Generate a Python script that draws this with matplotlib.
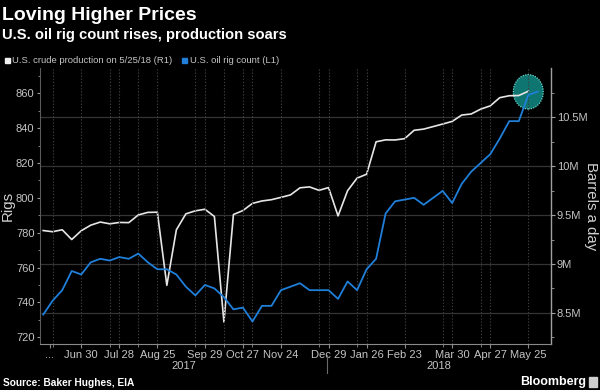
import matplotlib
matplotlib.use("Agg")
import matplotlib.pyplot as plt
import matplotlib.dates as mdates
from matplotlib.patches import Ellipse, Rectangle
import pandas as pd
import numpy as np

# ---------------- data ----------------
rig_start = "2017-06-02"
rig_counts = [733, 741, 747, 758, 756,
              763, 765, 764, 766,
              765, 768, 763, 759,
              759, 756, 749, 744, 750,
              748, 743, 736, 737,
              729, 738, 738, 747,
              749, 751, 747, 747, 747,
              742, 752, 747, 759,
              765, 791, 798, 799,
              800, 796, 800, 804, 797,
              808, 815, 820, 825,
              834, 844, 844, 859,
              861]
production_m = [9.342, 9.330, 9.350, 9.250, 9.340,
                9.397, 9.429, 9.411, 9.425,
                9.423, 9.502, 9.528, 9.530,
                8.781, 9.349, 9.513, 9.544, 9.560,
                9.486, 8.405, 9.506, 9.547,
                9.620, 9.645, 9.658, 9.682,
                9.707, 9.780, 9.789, 9.754, 9.782,
                9.492, 9.750, 9.879, 9.919,
                10.251, 10.271, 10.270, 10.283,
                10.369, 10.381, 10.407, 10.433, 10.460,
                10.525, 10.536, 10.586, 10.619,
                10.703, 10.723, 10.725, 10.769]
tick_dates = ["2017-06-07", "2017-06-30", "2017-07-28", "2017-08-25", "2017-09-29",
              "2017-10-27", "2017-11-24", "2017-12-29", "2018-01-26", "2018-02-23",
              "2018-03-30", "2018-04-27", "2018-05-25"]
tick_labels = ["...", "Jun 30", "Jul 28", "Aug 25", "Sep 29", "Oct 27", "Nov 24",
               "Dec 29", "Jan 26", "Feb 23", "Mar 30", "Apr 27", "May 25"]
extra_grid_dates = ["2017-06-09", "2017-07-21", "2017-08-11", "2017-09-22", "2017-10-13",
                    "2017-11-03", "2017-12-22", "2018-01-19", "2018-03-23", "2018-04-20"]
rig_ticks = [720, 740, 760, 780, 800, 820, 840, 860]
prod_ticks = [8.5, 9.0, 9.5, 10.0, 10.5]
prod_tick_labels = ["8.5M", "9M", "9.5M", "10M", "10.5M"]
years = ["2017", "2018"]

rig_dates = pd.date_range(rig_start, periods=len(rig_counts), freq="7D")
prod_dates = rig_dates[:len(production_m)]

# ---------------- style ----------------
FONT = "Liberation Sans"
plt.rcParams["font.family"] = [FONT, "DejaVu Sans"]
BG = "#000000"
TXT = "#c4c4c4"
WHITE_LINE = "#e6e6e6"
BLUE_LINE = "#1f7fd9"
GRID = "#343434"

fig = plt.figure(figsize=(6.0, 3.9), dpi=100, facecolor=BG)
L, R, B, T = 40 / 600, 550.7 / 600, 1 - 343.5 / 390, 1 - 68 / 390
ax2 = fig.add_axes([L, B, R - L, T - B])  # production, right axis (drawn below)
ax = fig.add_axes([L, B, R - L, T - B], sharex=ax2)  # rigs, left axis (on top)
ax2.set_facecolor(BG)
ax.patch.set_visible(False)

xmin = mdates.date2num(pd.Timestamp(rig_start)) - 2.35
xmax = mdates.date2num(pd.Timestamp("2018-05-25")) + 16.5
ax2.set_xlim(xmin, xmax)

# production (right)
ax2.plot(prod_dates, production_m, color=WHITE_LINE, lw=1.2, zorder=3)
ax2.set_ylim(8.185, 11.007)
ax2.yaxis.tick_right()
ax2.set_yticks(prod_ticks)
ax2.set_yticklabels(prod_tick_labels)
ax2.set_yticks(np.arange(8.25, 11.0, 0.5), minor=True)
for y in prod_ticks:
    ax2.axhline(y, color=GRID, lw=0.9, zorder=0.5)

# rigs (left)
ax.plot(rig_dates, rig_counts, color=BLUE_LINE, lw=1.3, zorder=3)
ax.set_ylim(716.4, 874.5)
ax.set_yticks(rig_ticks)
ax.set_yticks(np.arange(730, 871, 20), minor=True)

# highlight ellipse around latest values (on production axis)
ell = Ellipse((mdates.date2num(prod_dates[-1]), production_m[-1] - 0.006), width=22, height=0.352,
              facecolor="#0f7570", edgecolor="#6ad8cf", lw=0.9, ls=(0, (1, 1)), zorder=1)
ax2.add_patch(ell)

# vertical dotted gridlines
for d in list(tick_dates[1:]) + extra_grid_dates:
    ax.axvline(mdates.date2num(pd.Timestamp(d)), color="#3c3c3c", lw=0.8, ls=(0, (1.2, 1.6)), zorder=0.5)

# x ticks
ax.set_xticks([mdates.date2num(pd.Timestamp(d)) for d in tick_dates])
ax.set_xticklabels(tick_labels)
ax.set_xticks([mdates.date2num(pd.Timestamp(d)) for d in extra_grid_dates], minor=True)
ax2.tick_params(axis="x", which="both", labelbottom=False, bottom=False)

for a in (ax, ax2):
    for s in a.spines.values():
        s.set_visible(False)
ax.spines["left"].set_visible(True)
ax.spines["left"].set_color("#5a5a5a")
ax.spines["bottom"].set_visible(True)
ax.spines["bottom"].set_color("#8a8a8a")
ax2.spines["right"].set_visible(True)
ax2.spines["right"].set_color("#a0a0a0")
ax2.spines["right"].set_linewidth(1.0)

ax.tick_params(axis="y", which="major", colors="#9a9a9a", labelcolor=TXT, labelsize=8, length=2.5, pad=1.5)
ax.tick_params(axis="y", which="minor", colors="#9a9a9a", length=1.5)
ax2.tick_params(axis="y", which="major", colors="#a0a0a0", labelcolor=TXT, labelsize=8, length=3, pad=1.5)
ax2.tick_params(axis="y", which="minor", colors="#a0a0a0", length=2)
ax.tick_params(axis="x", which="major", colors="#8a8a8a", labelcolor=TXT, labelsize=8, length=3, pad=2)
ax.tick_params(axis="x", which="minor", colors="#8a8a8a", length=2)

# axis titles
fig.text(8 / 600, 1 - 206 / 390, "Rigs", rotation=90, ha="center", va="center",
         color="#d0d0d0", fontsize=10.8)
fig.text(591.5 / 600, 1 - 206 / 390, "Barrels a day", rotation=270, ha="center", va="center",
         color="#d0d0d0", fontsize=10.8)

# year labels and separator
fig.text(183.5 / 600, 1 - 366 / 390, years[0], ha="center", va="center", color=TXT, fontsize=8)
fig.text(438.5 / 600, 1 - 366 / 390, years[1], ha="center", va="center", color=TXT, fontsize=8)
fig.add_artist(plt.Line2D([327.3 / 600, 327.3 / 600], [1 - 355 / 390, 1 - 373 / 390],
                          color="#6a6a6a", lw=0.8, transform=fig.transFigure))

# titles
fig.text(2 / 600, 1 - 15 / 390, "Loving Higher Prices", ha="left", va="center",
         color="white", fontsize=14, fontweight="bold")
fig.text(2 / 600, 1 - 34.5 / 390, "U.S. oil rig count rises, production soars", ha="left",
         va="center", color="white", fontsize=10.6, fontweight="bold")

# legend
fig.add_artist(Rectangle((4.5 / 600, 1 - 63 / 390), 5 / 600, 5 / 390, color="#f0f0f0",
                         transform=fig.transFigure))
fig.text(12.5 / 600, 1 - 60.5 / 390, "U.S. crude production on 5/25/18 (R1)", ha="left",
         va="center", color=TXT, fontsize=6.8)
fig.add_artist(Rectangle((182 / 600, 1 - 63 / 390), 5 / 600, 5 / 390, color=BLUE_LINE,
                         transform=fig.transFigure))
fig.text(189.5 / 600, 1 - 60.5 / 390, "U.S. oil rig count (L1)", ha="left",
         va="center", color=TXT, fontsize=6.8)

# footer
fig.text(3 / 600, 1 - 383 / 390, "Source: Baker Hughes, EIA", ha="left", va="center",
         color="white", fontsize=7.3, fontweight="bold")
fig.text(586 / 600, 1 - 382 / 390, "Bloomberg", ha="right", va="center",
         color="white", fontsize=9, fontweight="bold")
fig.add_artist(Rectangle((589 / 600, 1 - 387 / 390), 8 / 600, 10 / 390, color="#cfcfcf",
                         transform=fig.transFigure))

fig.savefig("out.png", dpi=100, facecolor=BG)
